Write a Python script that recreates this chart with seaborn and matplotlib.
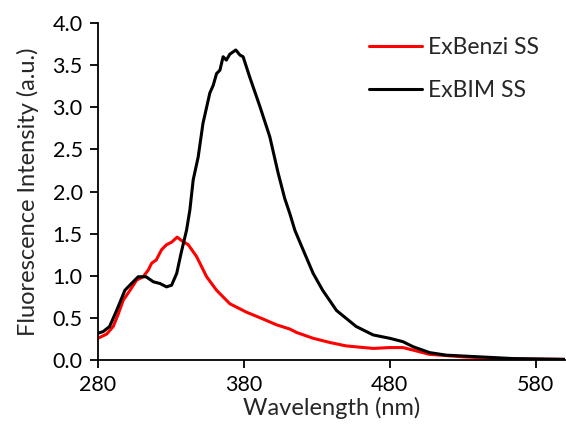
import matplotlib
matplotlib.use("Agg")
import matplotlib.pyplot as plt
import seaborn as sns
import pandas as pd

# Emission spectra (wavelength in nm, intensity in a.u.)
benzi_wl = [280, 286, 290.5, 294, 297.3, 302, 306.5, 311, 314.5, 316.8, 320, 323.6,
            327, 330.5, 334.3, 337.3, 341.9, 347.6, 354.5, 361.3, 370.4, 381.8, 393,
            402.4, 411.5, 416, 427.5, 439, 450, 468.6, 480, 489, 496, 507, 530, 560, 600]
benzi_int = [0.26, 0.31, 0.40, 0.55, 0.71, 0.83, 0.95, 0.99, 1.07, 1.15, 1.19, 1.31,
             1.37, 1.40, 1.46, 1.42, 1.37, 1.23, 0.99, 0.83, 0.67, 0.57, 0.49,
             0.42, 0.37, 0.33, 0.26, 0.21, 0.17, 0.14, 0.15, 0.15, 0.12, 0.07, 0.04, 0.015, 0.01]

bim_wl = [280, 283.6, 288, 292.8, 298.5, 303, 307.6, 313, 318, 322.5, 327, 330.5,
          334, 337, 340.7, 343, 345.3, 348.7, 352, 356.7, 359, 361.3, 363.6, 365.8,
          368, 370.4, 374.5, 377.3, 379.5, 384, 391, 397.8, 403.5, 408, 411.5, 415,
          420.6, 427.5, 434, 443.5, 457, 468.6, 480, 489, 496, 507.4, 518.8, 541.6,
          564, 600]
bim_int = [0.32, 0.34, 0.40, 0.59, 0.83, 0.91, 0.99, 0.99, 0.93, 0.91, 0.87, 0.89,
           1.03, 1.27, 1.54, 1.78, 2.14, 2.41, 2.81, 3.17, 3.26, 3.40, 3.44, 3.60,
           3.56, 3.63, 3.68, 3.62, 3.60, 3.36, 3.01, 2.65, 2.22, 1.92, 1.74, 1.54,
           1.31, 1.03, 0.83, 0.59, 0.40, 0.30, 0.26, 0.22, 0.16, 0.09, 0.06, 0.04,
           0.02, 0.01]

series_names = ["ExBenzi SS", "ExBIM SS"]
series_colors = ["#ff0000", "#000000"]

x_ticks = [280, 380, 480, 580]
y_ticks = [0.0, 0.5, 1.0, 1.5, 2.0, 2.5, 3.0, 3.5, 4.0]

df = pd.concat([
    pd.DataFrame({"Wavelength": benzi_wl, "Intensity": benzi_int, "Sample": series_names[0]}),
    pd.DataFrame({"Wavelength": bim_wl, "Intensity": bim_int, "Sample": series_names[1]}),
], ignore_index=True)

sns.set_style("white")
plt.rcParams["font.family"] = ["Lato", "DejaVu Sans"]

fig = plt.figure(figsize=(5.66, 4.34), dpi=100)
ax = fig.add_axes([0.173, 0.17, 0.825, 0.777])

sns.lineplot(data=df, x="Wavelength", y="Intensity", hue="Sample",
             palette=dict(zip(series_names, series_colors)), linewidth=2.2,
             sort=True, estimator=None, ax=ax)

ax.set_xlim(280, 600)
ax.set_ylim(0, 4.0)
ax.set_xticks(x_ticks)
ax.set_yticks(y_ticks)
ax.set_yticklabels([f"{v:.1f}" for v in y_ticks])
ax.tick_params(axis="both", direction="out", length=6, width=1.3, colors="black",
               labelsize=15.5, pad=5, left=True, bottom=True)

for side in ["top", "right"]:
    ax.spines[side].set_visible(False)
for side in ["left", "bottom"]:
    ax.spines[side].set_color("black")
    ax.spines[side].set_linewidth(1.3)

ax.set_xlabel("Wavelength (nm)", fontsize=17, labelpad=1)
ax.set_ylabel("Fluorescence Intensity (a.u.)", fontsize=17, labelpad=10)

leg = ax.legend(loc="upper right", frameon=False, fontsize=16.5, handlelength=2.3,
                labelspacing=0.95, handletextpad=0.3, borderaxespad=0.2,
                bbox_to_anchor=(0.975, 1.0))

fig.savefig("out.png", dpi=100)
